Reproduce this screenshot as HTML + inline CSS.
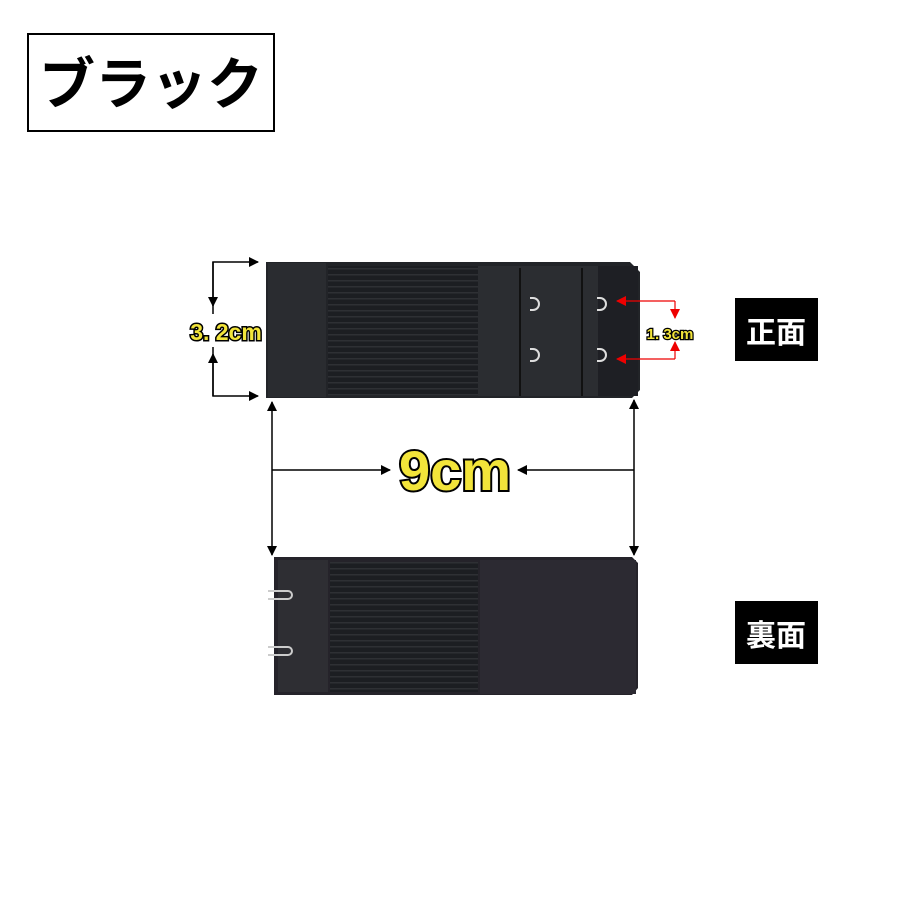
<!DOCTYPE html>
<html><head><meta charset="utf-8"><style>
body{margin:0;background:#fff;width:900px;height:900px;overflow:hidden;font-family:"Liberation Sans","Noto Sans CJK JP",sans-serif}
</style></head><body>
<svg width="900" height="900" xmlns="http://www.w3.org/2000/svg">
<defs>
<pattern id="rib" width="6" height="6" patternUnits="userSpaceOnUse"><rect width="6" height="6" fill="#1c1e22"/><rect y="4" width="6" height="1.5" fill="#2e3034"/></pattern>
<marker id="ah" markerWidth="10" markerHeight="10" refX="9" refY="5" orient="auto" markerUnits="userSpaceOnUse"><path d="M0,0 L10,5 L0,10z" fill="#000"/></marker>
<marker id="ar" markerWidth="10" markerHeight="10" refX="9" refY="5" orient="auto" markerUnits="userSpaceOnUse"><path d="M0,0 L10,5 L0,10z" fill="#e00"/></marker>
</defs>
<rect x="28" y="34" width="246" height="97" fill="#fff" stroke="#000" stroke-width="2"/>
<text x="151" y="104" font-size="56" font-weight="bold" text-anchor="middle" font-family="'Noto Sans CJK JP',sans-serif" fill="#000">ブラック</text>

<path d="M266,262 H630 L640,272 V390 L632,398 H266Z" fill="#222428"/>
<rect x="268" y="263" width="58" height="134" fill="#2a2c30"/>
<rect x="328" y="266" width="150" height="130" fill="url(#rib)"/>
<rect x="478" y="266" width="120" height="130" fill="#2b2d31"/>
<line x1="520" y1="268" x2="520" y2="396" stroke="#111" stroke-width="2"/>
<line x1="582" y1="268" x2="582" y2="396" stroke="#111" stroke-width="2"/>
<rect x="598" y="266" width="40" height="130" fill="#1e1f24"/>
<g fill="none" stroke="#ddd" stroke-width="2">
<path d="M530,298 h3 a6,6 0 0 1 0,12 h-3"/><path d="M530,349 h3 a6,6 0 0 1 0,12 h-3"/>
<path d="M597,298 h3 a6,6 0 0 1 0,12 h-3"/><path d="M597,349 h3 a6,6 0 0 1 0,12 h-3"/>
</g>
<path d="M274,557 H632 L638,563 V688 L632,695 H274Z" fill="#25232a"/>
<rect x="278" y="560" width="50" height="132" fill="#2e2e33"/>
<rect x="330" y="562" width="148" height="130" fill="url(#rib)"/>
<rect x="480" y="560" width="156" height="134" fill="#2c2a32"/>
<g fill="none" stroke="#ccc" stroke-width="2"><path d="M268,591 h20 a4,4 0 0 1 0,8 h-20"/><path d="M268,647 h20 a4,4 0 0 1 0,8 h-20"/></g>

<g stroke="#000" stroke-width="1.5" fill="none">
<path d="M213,314 V262 H258" marker-end="url(#ah)"/>
<path d="M213,262 V306" marker-end="url(#ah)"/>
<path d="M213,347 V396 H258" marker-end="url(#ah)"/>
<path d="M213,396 V354" marker-end="url(#ah)"/>
<path d="M272,470 V402" marker-end="url(#ah)"/>
<path d="M272,470 V555" marker-end="url(#ah)"/>
<path d="M634,470 V400" marker-end="url(#ah)"/>
<path d="M634,470 V555" marker-end="url(#ah)"/>
<path d="M272,470 H390" marker-end="url(#ah)"/>
<path d="M634,470 H518" marker-end="url(#ah)"/>
</g>
<g stroke="#e00" stroke-width="1.2" fill="none">
<path d="M656,301 H617" marker-end="url(#ar)"/>
<path d="M656,359 H617" marker-end="url(#ar)"/>
<path d="M656,301 H675 M656,359 H675"/>
<path d="M675,301 V318" marker-end="url(#ar)"/>
<path d="M675,359 V342" marker-end="url(#ar)"/>
</g>
<g font-weight="bold" fill="#f2e43a" stroke="#000" paint-order="stroke">
<text x="226" y="340" font-size="23" stroke-width="3" text-anchor="middle">3. 2cm</text>
<text x="670" y="339" font-size="15" stroke-width="2.5" text-anchor="middle">1. 3cm</text>
<text x="455" y="490" font-size="56" stroke-width="4" text-anchor="middle">9cm</text>
</g>
<rect x="735" y="298" width="83" height="63" fill="#000"/>
<text x="776" y="343" font-size="30" font-weight="bold" fill="#fff" text-anchor="middle" font-family="'Noto Sans CJK JP',sans-serif">正面</text>
<rect x="735" y="601" width="83" height="63" fill="#000"/>
<text x="776" y="646" font-size="30" font-weight="bold" fill="#fff" text-anchor="middle" font-family="'Noto Sans CJK JP',sans-serif">裏面</text>
</svg>
</body></html>
